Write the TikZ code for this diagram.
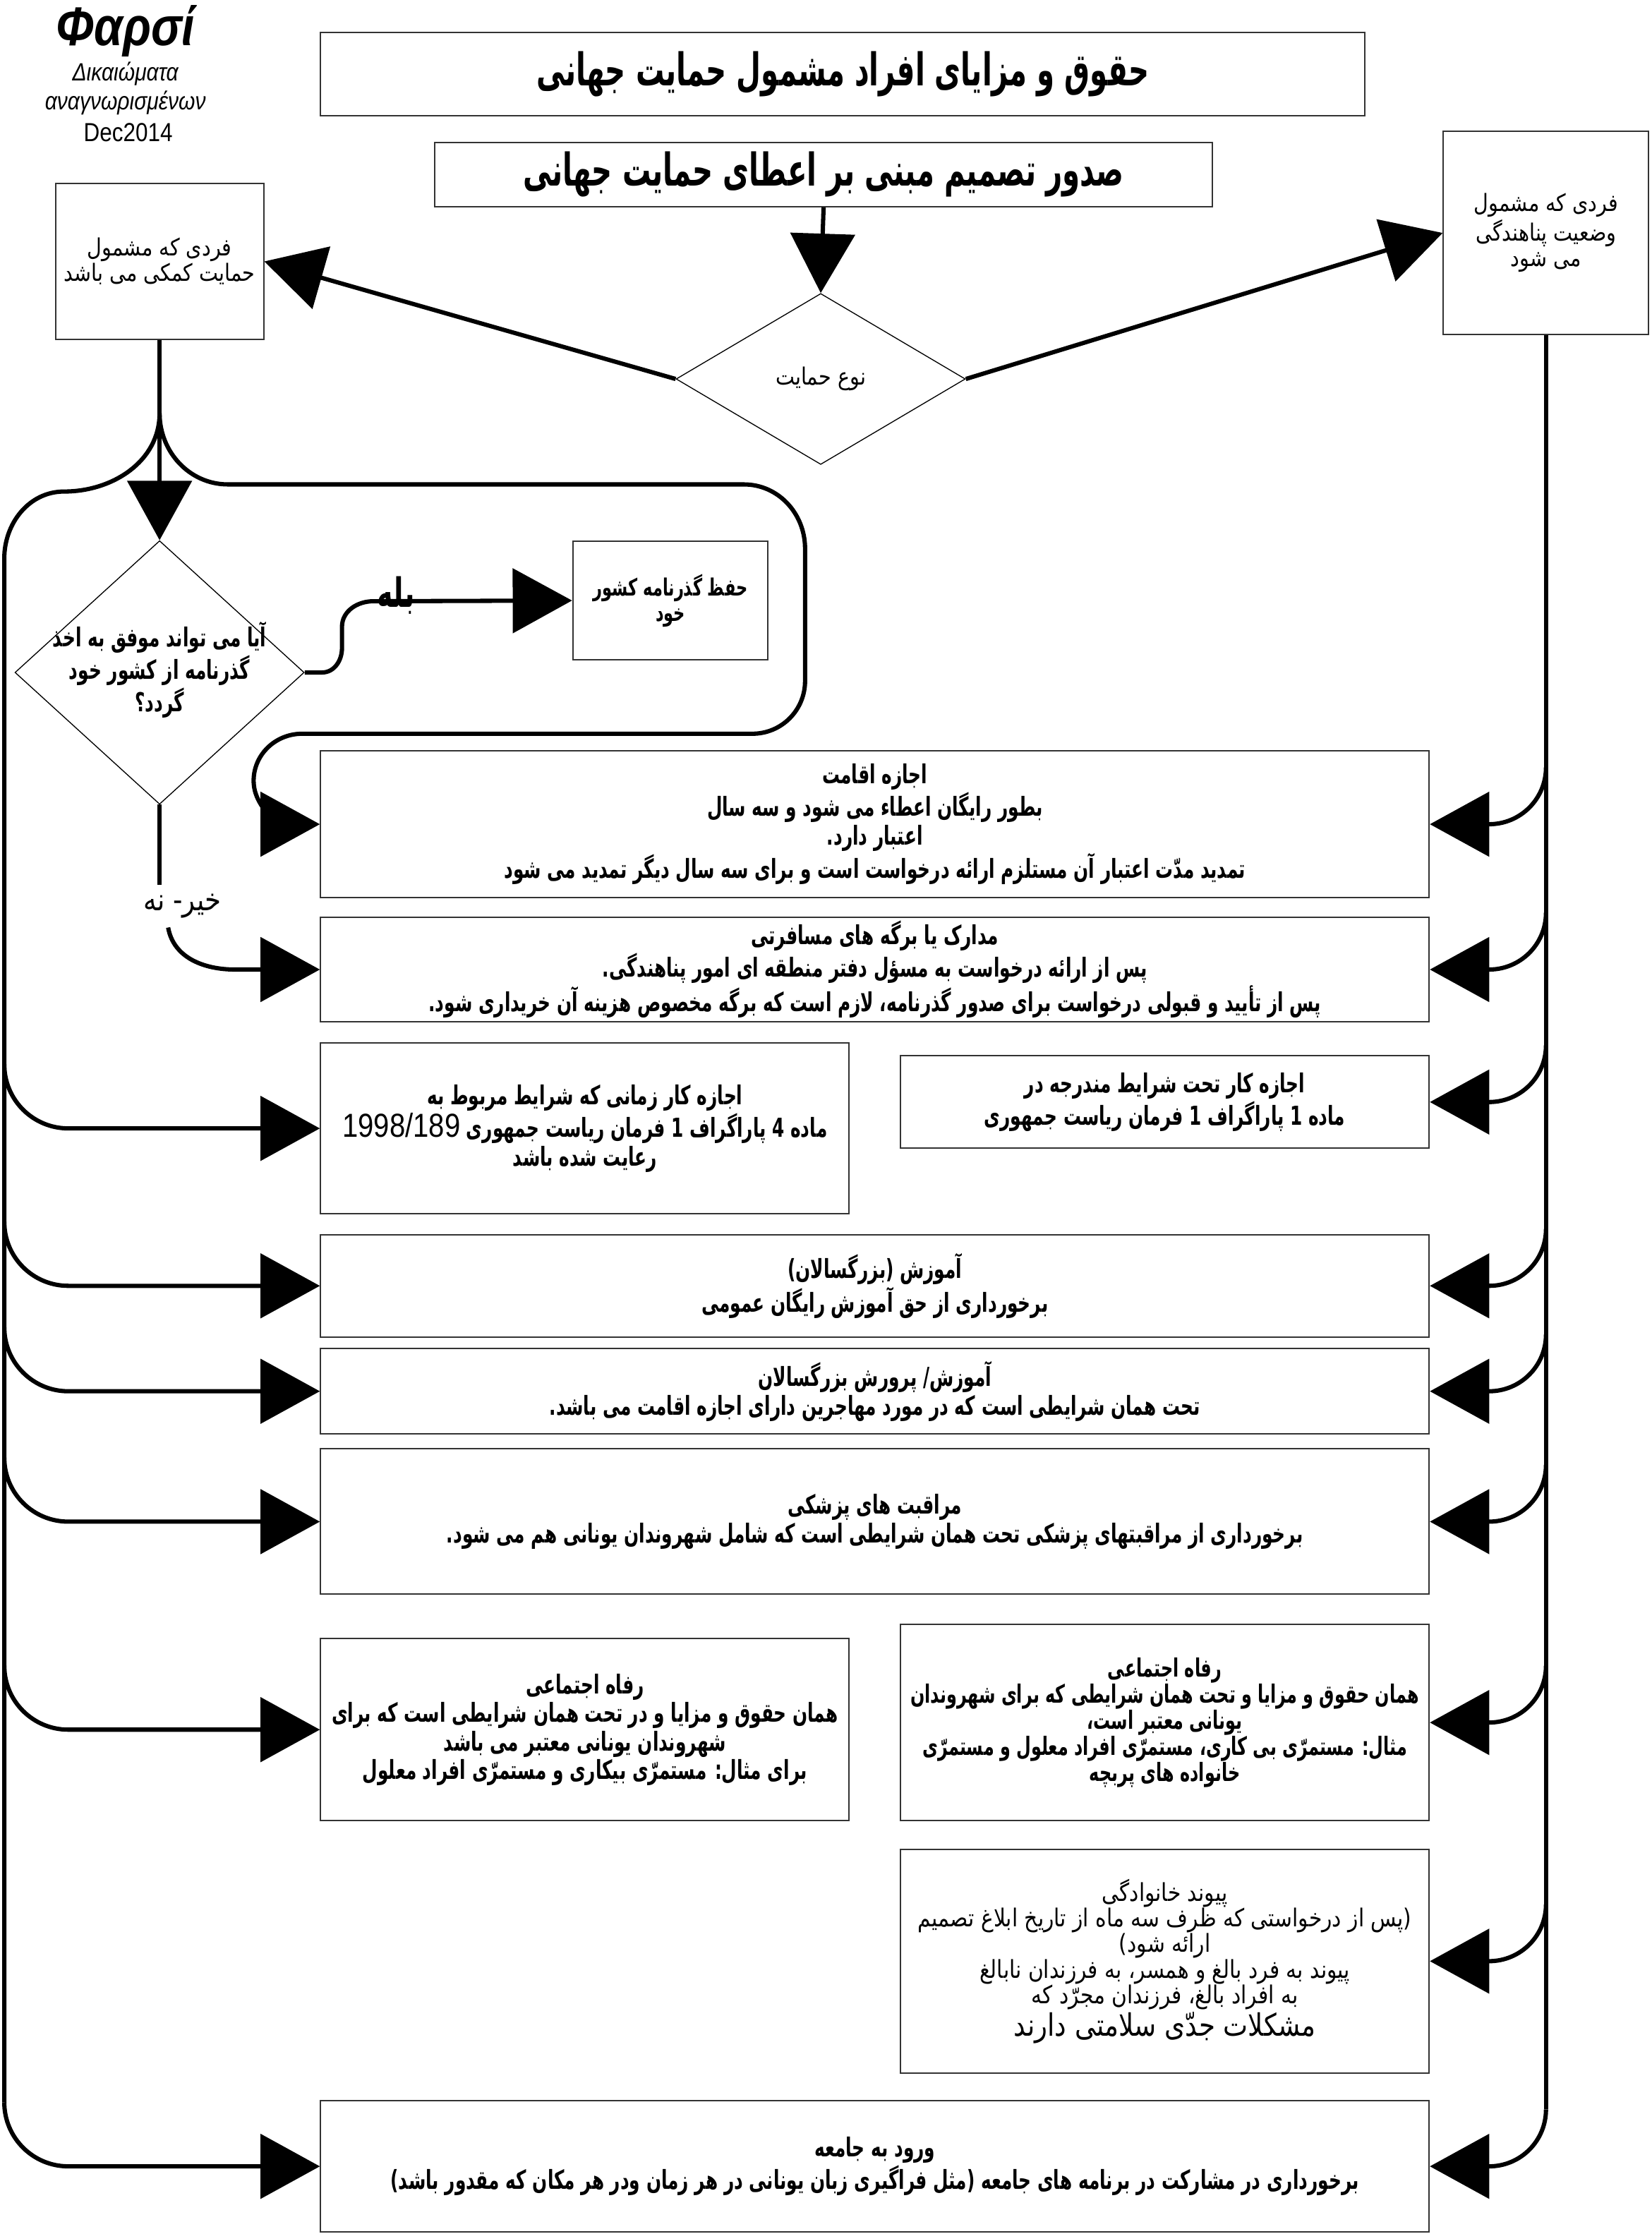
\documentclass[tikz,border=0pt]{standalone}
\usepackage{fontspec}
\usetikzlibrary{arrows.meta,shapes.geometric,calc}
\TeXXeTstate=1
\newfontfamily\arR[Script=Arabic,FakeStretch=0.85]{DejaVu Sans}
\newfontfamily\arB[Script=Arabic,FakeStretch=0.67]{DejaVu Sans}
\newfontfamily\arT[Script=Arabic,FakeStretch=0.63]{DejaVu Sans}
\newfontfamily\grk[FakeStretch=0.85]{Liberation Sans}
\newcommand\RL[1]{\beginR #1\endR}
\begin{document}
\begin{tikzpicture}[x=0.6pt,y=-0.6pt,
  box/.style={draw=black!80,line width=0.6pt,rectangle,inner sep=1pt,align=center},
  sz/.style 2 args={minimum width=#1*0.6pt,minimum height=#2*0.6pt},
  bold/.style={font=\arB\bfseries\fontsize{11}{11}\selectfont},
  boldsm/.style={font=\arB\bfseries\fontsize{10}{10.8}\selectfont},
  big/.style={font=\arT\bfseries\fontsize{19}{20}\selectfont},
  reg/.style={font=\arR\fontsize{10}{10.8}\selectfont},
  dia/.style={draw=black,line width=0.4pt,diamond,inner sep=0pt,align=center},
  conn/.style={line width=1.8pt,draw=black},
  arr/.style={-{Triangle[length=25pt,width=27pt]}}
]
\useasboundingbox (0,0) rectangle (1159,1568);
% header text
\node[font=\grk\bfseries\itshape\fontsize{23}{25}\selectfont] (farsi) at (88,22) {Φαρσί};
\node[font=\grk\itshape\fontsize{10.5}{12}\selectfont] (gr1) at (88,52) {Δικαιώματα};
\node[font=\grk\itshape\fontsize{10.5}{12}\selectfont] (gr2) at (88,72) {αναγνωρισμένων};
\node[font=\grk\fontsize{11}{12}\selectfont] (date) at (90,93) {Dec2014};
% boxes
\node[box,big,sz={733}{58}] (title) at (591.5,52) {\RL{حقوق و مزایای افراد مشمول حمایت جهانی}};
\node[box,big,sz={546}{45}] (dec) at (578,122.5) {\RL{صدور تصمیم مبنی بر اعطای حمایت جهانی}};
\node[box,reg,sz={146}{109}] (lbox) at (112,183.5) {\RL{فردی که مشمول}\\\RL{حمایت کمکی می باشد}};
\node[box,reg,sz={144}{143}] (rbox) at (1085,163.5) {\RL{فردی که مشمول}\\\RL{وضعیت پناهندگی}\\\RL{می شود}};
\node[dia,reg,sz={203}{120}] (d1) at (576,266) {\RL{نوع حمایت}};
\node[dia,sz={203}{185}] (d2) at (112,472) {};
\node[bold,align=center,inner sep=0pt] (d2t) at (112,470) {\RL{آیا می تواند موفق به اخذ}\\\RL{گذرنامه از کشور خود}\\\RL{گردد؟}};
\node[box,boldsm,sz={137}{83}] (keep) at (470.5,421.5) {\RL{حفظ گذرنامه کشور}\\\RL{خود}};
\node[box,bold,sz={778}{103}] (stay) at (614,578.5) {\RL{اجازه اقامت}\\\RL{بطور رایگان اعطاء می شود و سه سال}\\\RL{اعتبار دارد.}\\\RL{تمدید مدّت اعتبار آن مستلزم ارائه درخواست است و برای سه سال دیگر تمدید می شود}};
\node[box,bold,sz={778}{73}] (docs) at (614,680.5) {\RL{مدارک یا برگه های مسافرتی}\\\RL{پس از ارائه درخواست به مسؤل دفتر منطقه ای امور پناهندگی.}\\\RL{پس از تأیید و قبولی درخواست برای صدور گذرنامه، لازم است که برگه مخصوص هزینه آن خریداری شود.}};
\node[box,bold,sz={371}{120}] (work1) at (410.5,792) {\RL{اجازه کار زمانی که شرایط مربوط به}\\\RL{ماده 4 پاراگراف 1 فرمان ریاست جمهوری \beginL{\grk\mdseries\fontsize{14}{11}\selectfont 1998/189}\endL}\\\RL{رعایت شده باشد}};
\node[box,bold,sz={371}{65}] (work2) at (817.5,773.5) {\RL{اجازه کار تحت شرایط مندرجه در}\\\RL{ماده 1 پاراگراف 1 فرمان ریاست جمهوری}};
\node[box,bold,sz={778}{72}] (edu1) at (614,902.5) {\RL{آموزش (بزرگسالان)}\\\RL{برخورداری از حق آموزش رایگان عمومی}};
\node[box,bold,sz={778}{60}] (edu2) at (614,976.5) {\RL{آموزش/ پرورش بزرگسالان}\\\RL{تحت همان شرایطی است که در مورد مهاجرین دارای اجازه اقامت می باشد.}};
\node[box,bold,sz={778}{102}] (med) at (614,1068) {\RL{مراقبت های پزشکی}\\\RL{برخورداری از مراقبتهای پزشکی تحت همان شرایطی است که شامل شهروندان یونانی هم می شود.}};
\node[box,bold,sz={371}{128}] (wel1) at (410.5,1214) {\RL{رفاه اجتماعی}\\\RL{همان حقوق و مزایا و در تحت همان شرایطی است که برای}\\\RL{شهروندان یونانی معتبر می باشد}\\\RL{برای مثال: مستمرّی بیکاری و مستمرّی افراد معلول}};
\node[box,font=\arB\bfseries\fontsize{10.6}{11}\selectfont,sz={371}{138}] (wel2) at (817.5,1209) {\RL{رفاه اجتماعی}\\\RL{همان حقوق و مزایا و تحت همان شرایطی که برای شهروندان}\\\RL{یونانی معتبر است،}\\\RL{مثال: مستمرّی بی کاری، مستمرّی افراد معلول و مستمرّی}\\\RL{خانواده های پربچه}};
\node[box,font=\arR\fontsize{10.4}{10.8}\selectfont,sz={371}{157}] (fam) at (817.5,1376.5) {\RL{پیوند خانوادگی}\\\RL{(پس از درخواستی که ظرف سه ماه از تاریخ ابلاغ تصمیم}\\\RL{ارائه شود)}\\\RL{پیوند به فرد بالغ و همسر، به فرزندان نابالغ}\\\RL{به افراد بالغ، فرزندان مجرّد که}\\{\fontsize{13}{12}\selectfont\RL{مشکلات جدّی سلامتی دارند}}};
\node[box,bold,sz={778}{92}] (comm) at (614,1520.5) {\RL{ورود به جامعه}\\\RL{برخورداری در مشارکت در برنامه های جامعه (مثل فراگیری زبان یونانی در هر زمان ودر هر مکان که مقدور باشد)}};
% labels
\node[font=\arB\bfseries\fontsize{17}{17}\selectfont,inner sep=0pt] (yes) at (278,418) {\RL{بله}};
\node[font=\arR\fontsize{13}{13}\selectfont,inner sep=0pt] (no) at (128,636) {\RL{خیر- نه}};
% coordinates
\coordinate (split) at (112,290);
\coordinate (lrail) at (3,0);
\coordinate (noA) at (112,621);
\coordinate (noB) at (118,651);
% top connectors
\draw[conn,arr] (dec.south) -- (d1.north);
\draw[conn,arr] (d1.west) -- (lbox.east);
\draw[conn,arr] (d1.east) -- (rbox.west);
% left column
\draw[conn,arr] (lbox.south) -- (d2.north);
\draw[conn] (split) to[out=-90,in=0] (45,345) to[out=180,in=90] (3,392) -- ($(comm.west -| lrail)+(0,-45)$);
\draw[conn,arr] (split) to[out=-90,in=180] (160,340) -- (522,340) to[out=0,in=90] (565,385) -- (565,478) to[out=-90,in=0] (528,515) -- (212,515) to[out=180,in=90] (178,548) to[out=-90,in=180] (stay.west);
\draw[conn,arr] (d2.east) -- (226,472) to[out=0,in=-90] (240,455) -- (240,440) to[out=90,in=180] (262,422) -- (keep.west);
\draw[conn] (d2.south) -- (noA);
\draw[conn,arr] (noB) to[out=-80,in=180] (165,680.5) -- (docs.west);
\foreach \n in {work1,edu1,edu2,med,wel1,comm}{
  \draw[conn,arr] ($(\n.west -| lrail)+(0,-45)$) to[out=-90,in=180] ($(\n.west -| lrail)+(45,0)$) -- (\n.west);
}
% right rail
\draw[conn] (rbox.south) -- ($(comm.east -| rbox.south)+(0,-40)$);
\foreach \n in {stay,docs,work2,edu1,edu2,med,wel2,fam,comm}{
  \draw[conn,arr] ($(\n.east -| rbox.south)+(0,-40)$) to[out=-90,in=0] ($(\n.east -| rbox.south)+(-40,0)$) -- (\n.east);
}
\end{tikzpicture}
\end{document}
